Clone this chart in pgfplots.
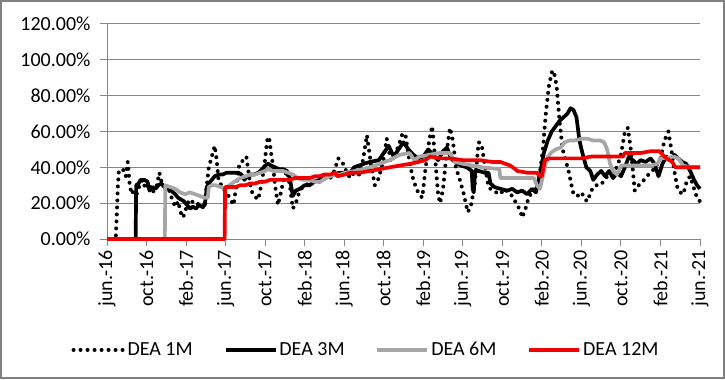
\documentclass[border=0pt]{standalone}
\usepackage{fontspec}
\setmainfont{Carlito}
\usepackage{pgfplots}
\pgfplotsset{compat=1.18}
\definecolor{gridgray}{RGB}{134,134,134}
\definecolor{framegray}{RGB}{128,128,128}
\definecolor{s6}{RGB}{166,166,166}
\definecolor{s12}{RGB}{240,0,0}
\begin{document}
\begin{tikzpicture}[x=1bp,y=1bp]
\useasboundingbox (0,0) rectangle (725,379);
\draw[framegray, line width=2bp] (1,1) rectangle (724,378);
\begin{axis}[
  at={(107bp,140bp)}, anchor=south west,
  scale only axis, width=593bp, height=215bp,
  xmin=0, xmax=60, ymin=0, ymax=120,
  clip=false,
  xtick={0,4,...,60},
  xticklabels={jun.-16,oct.-16,feb.-17,jun.-17,oct.-17,feb.-18,jun.-18,oct.-18,feb.-19,jun.-19,oct.-19,feb.-20,jun.-20,oct.-20,feb.-21,jun.-21},
  ytick={0,20,40,60,80,100,120},
  yticklabels={0.00\%,20.00\%,40.00\%,60.00\%,80.00\%,100.00\%,120.00\%},
  /pgf/number format/assume math mode=true,
  font=\fontsize{20bp}{23bp}\selectfont,
  ticklabel style={font=\fontsize{20bp}{23bp}\selectfont},
  axis x line*=bottom, axis y line*=left,
  axis line style={gridgray, line width=1bp},
  ymajorgrids, grid style={gridgray, line width=1bp},
  tick align=outside, major tick length=7bp,
  tick style={gridgray, line width=1bp},
  xticklabel style={rotate=90, anchor=east, xshift=-1bp},
  yticklabel style={xshift=-6bp},
  legend columns=4,
  legend style={draw=none, fill=none, at={(0.4368,-0.516)}, anchor=center,
    font=\fontsize{20bp}{23bp}\selectfont,
    /tikz/every even column/.append style={column sep=29bp}},
  legend image code/.code={\draw[#1] (0bp,0bp) -- (50bp,0bp);},
]
\addplot[black, line width=4bp, line cap=round, dash pattern=on 0bp off 7bp] coordinates {
(0.9,2) (1.0,15) (1.1,30) (1.2,38) (1.6,39) (1.9,35) (2.1,43) (2.3,30) (2.5,25) (2.7,27)
(3.0,25) (3.3,30) (3.6,33) (3.9,28) (4.3,31) (4.6,26) (5.0,29) (5.3,37) (5.6,30) (6.0,29)
(6.3,27) (6.6,22) (6.9,18) (7.2,21) (7.5,14) (7.7,12) (8.0,17) (8.3,22) (8.6,21) (9.0,19)
(9.4,20) (9.8,17) (10.1,30) (10.3,40) (10.6,46) (10.9,52) (11.1,44) (11.3,32) (11.6,30) (11.9,27)
(12.2,25) (12.5,22) (12.8,19) (13.1,30) (13.4,42) (13.8,44) (14.1,46) (14.3,38) (14.6,27) (14.9,24)
(15.3,22) (15.6,30) (15.9,40) (16.2,55) (16.4,57) (16.6,48) (16.8,41) (17.0,30) (17.3,19) (17.6,26)
(17.9,34) (18.2,38) (18.5,30) (18.8,17) (19.1,20) (19.5,27) (20.0,30) (20.5,31) (21.0,33) (21.5,32)
(22.0,34) (22.5,33) (23.0,38) (23.4,45) (23.8,43) (24.2,38) (24.6,34) (25.0,37) (25.5,36) (25.9,44)
(26.3,58) (26.7,42) (27.1,30) (27.5,34) (28.0,45) (28.3,56) (28.7,44) (29.1,47) (29.5,52) (29.9,59)
(30.2,58) (30.5,47) (30.9,35) (31.3,28) (31.6,25) (31.9,23) (32.2,38) (32.6,55) (32.9,63) (33.2,45)
(33.5,25) (33.7,20) (34.0,28) (34.4,50) (34.7,62) (35.0,55) (35.3,40) (35.7,33) (36.1,25) (36.5,15)
(36.8,18) (37.2,30) (37.6,54) (37.9,53) (38.2,42) (38.6,29) (39.0,27) (39.4,26) (39.8,25) (40.2,28)
(40.6,26) (41.0,24) (41.4,20) (41.8,16) (42.0,12) (42.3,16) (42.7,24) (43.1,26) (43.5,30) (43.8,37)
(44.1,50) (44.4,70) (44.7,85) (45.0,93) (45.2,94) (45.5,85) (45.8,65) (46.1,50) (46.4,44) (46.7,38)
(47.0,30) (47.2,25) (47.6,24) (48.0,26) (48.4,22) (48.6,21) (49.0,27) (49.4,30) (49.9,30) (50.4,33)
(50.8,37) (51.2,38) (51.6,40) (52.0,47) (52.4,60) (52.7,62) (53.0,50) (53.4,27) (53.8,30) (54.2,32)
(54.6,35) (55.0,37) (55.5,40) (56.0,45) (56.4,55) (56.8,60) (57.1,50) (57.4,38) (57.7,29) (58.0,26)
(58.3,25) (58.7,33) (59.0,35) (59.4,28) (59.7,23) (60.0,21)
};
\addlegendentry{DEA 1M}
\addplot[black, line width=3.7bp, line join=round] coordinates {
(0,0) (2.9,0) (2.95,30) (3.2,31) (3.4,33) (3.8,33) (4.1,32) (4.3,27) (4.6,29) (4.9,28)
(5.2,30) (5.5,31) (5.8,29) (6.2,28) (6.5,27) (6.9,25) (7.2,23) (7.5,22) (7.8,21) (8.1,19)
(8.4,17) (8.7,18) (9.0,17) (9.3,19) (9.6,18) (9.9,19) (10.1,29) (10.3,31) (10.6,33) (10.9,35)
(11.3,36) (11.7,36) (12.1,37) (12.5,37) (12.9,37) (13.3,37) (13.6,36) (13.9,33) (14.2,35) (14.5,36)
(14.9,36) (15.3,37) (15.7,39) (16.0,41) (16.3,42) (16.6,41) (17.0,40) (17.4,39) (17.8,39) (18.2,38)
(18.5,34) (18.8,24) (19.1,27) (19.5,28) (20.0,30) (20.5,30) (21.0,32) (21.5,33) (22.0,34) (22.5,35)
(23.0,36) (23.5,37) (24.0,37) (24.6,37) (25.0,40) (26.0,42) (26.6,43) (27.5,44) (28.0,48) (28.5,52)
(29.0,46) (29.5,50) (30.0,54) (30.5,50) (31.0,47) (31.5,45) (32.0,46) (32.5,50) (33.0,47) (33.5,44)
(34.0,49) (34.4,51) (34.8,45) (35.2,43) (35.8,41) (36.4,40) (36.9,38) (37.0,28) (37.1,26) (37.25,38)
(37.6,38) (38.2,37) (38.6,37) (38.8,31) (39.2,29) (39.8,28) (40.5,27) (41.0,28) (41.5,26) (42.0,27)
(42.5,25) (43.0,28) (43.4,26) (43.8,36) (44.2,48) (44.6,55) (45.0,60) (45.4,63) (45.8,66) (46.2,68)
(46.6,70) (46.9,73) (47.2,72) (47.5,68) (47.8,55) (48.1,48) (48.5,40) (48.9,38) (49.2,33) (49.6,36)
(50.0,38) (50.4,35) (50.8,38) (51.2,34) (51.6,37) (52.0,35) (52.4,40) (52.8,46) (53.2,44) (53.6,42)
(54.0,44) (54.5,43) (55.0,45) (55.4,42) (55.8,35) (56.2,42) (56.6,46) (57.0,44) (57.4,47) (57.8,45)
(58.2,43) (58.6,42) (59.0,38) (59.4,33) (59.7,30) (60.0,28)
};
\addlegendentry{DEA 3M}
\addplot[s6, line width=3.7bp, line join=round] coordinates {
(0,0) (5.85,0) (5.9,30) (6.4,29) (6.9,28) (7.4,26) (7.9,25) (8.4,26) (8.9,25) (9.4,24)
(9.9,23) (10.2,23) (10.3,29) (10.6,30) (11.0,30) (11.5,29) (11.9,28) (12.4,30) (12.9,32) (13.5,34)
(14.0,35) (14.5,36) (15.0,36) (15.5,37) (16.0,38) (16.3,39) (16.8,38) (17.3,38) (17.8,38) (18.3,37)
(18.8,36) (19.3,34) (19.8,33) (20.5,33) (21.0,32) (21.6,32) (22.1,34) (22.6,35) (23.1,36) (23.6,36)
(24.1,37) (25.1,38) (26.6,40) (27.6,42) (28.6,44) (29.6,47) (30.6,48) (31.1,44) (31.6,46) (32.6,47)
(33.6,48) (34.7,48) (35.2,43) (36.0,42) (37.0,41) (38.0,40) (39.7,39) (39.8,34) (40.5,34) (41.5,34)
(42.5,34) (43.2,34) (43.5,30) (43.8,28) (44.1,35) (44.5,45) (44.9,48) (45.4,50) (45.9,51) (46.3,54)
(46.8,55) (47.3,55) (48.0,56) (48.6,56) (49.2,55) (49.9,55) (50.3,54) (50.6,50) (50.9,42) (51.2,38)
(51.6,36) (52.0,41) (53.0,41) (54.0,41) (55.0,41) (55.7,42) (56.0,45) (56.6,45) (57.3,46) (57.8,45)
(58.3,41) (59.0,40) (60.0,40)
};
\addlegendentry{DEA 6M}
\addplot[s12, line width=3.7bp, line join=round] coordinates {
(0,0) (11.9,0) (11.95,29) (12.5,29) (13.0,29) (13.5,30) (14.0,30) (14.5,31) (15.0,31) (15.5,32)
(16.0,32) (16.5,33) (17.0,33) (18.0,33) (18.5,33) (19.0,34) (19.5,34) (20.5,34) (21.0,35) (21.5,35)
(22.0,36) (22.6,36) (23.1,37) (23.3,35) (24.1,36) (24.6,37) (25.6,37) (26.6,38) (27.6,39) (28.6,40)
(29.6,41) (30.7,42) (31.5,43) (32.2,44) (32.7,46) (33.7,45) (34.7,45) (36.0,44) (37.7,44) (39.0,43)
(39.8,43) (40.8,41) (41.3,39) (41.5,38) (42.5,37) (43.5,37) (43.8,35) (44.0,35) (44.3,44) (44.8,45)
(46.0,45) (47.0,45) (48.0,45) (49.0,46) (50.0,46) (51.0,46) (52.2,46) (52.4,48) (53.0,48) (54.0,48)
(55.0,49) (55.9,49) (56.2,47) (56.6,45) (57.2,43) (57.5,40) (58.5,40) (60.0,40)
};
\addlegendentry{DEA 12M}
\end{axis}
\end{tikzpicture}
\end{document}
